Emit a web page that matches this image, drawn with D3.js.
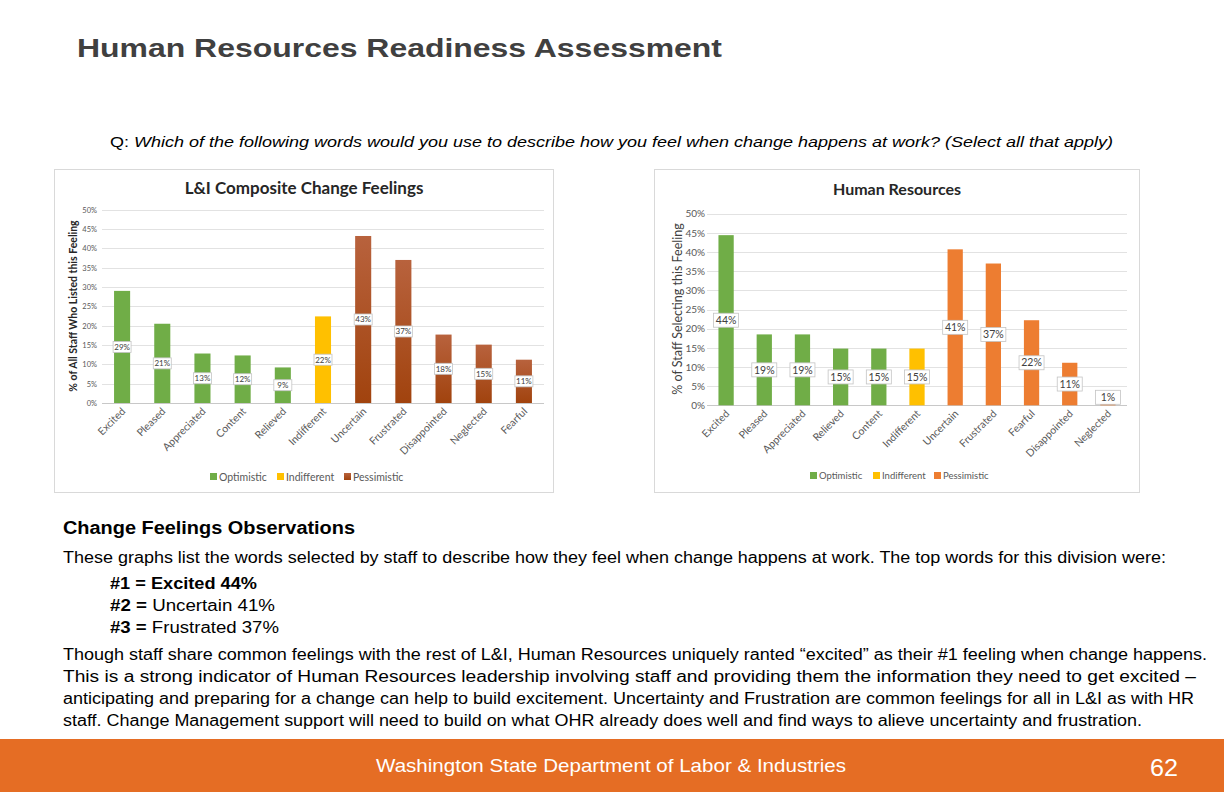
<!DOCTYPE html>
<html><head><meta charset="utf-8">
<script src="https://cdn.jsdelivr.net/npm/d3@7"></script>
<style>html,body{margin:0;padding:0;background:#fff;}svg{display:block;}</style>
</head><body>
<svg id="c" width="1224" height="792"></svg>
<script>
// ---------- DATA ----------
const groups = ["Optimistic", "Indifferent", "Pessimistic"];
const yTicks = [0, 5, 10, 15, 20, 25, 30, 35, 40, 45, 50];

const liCategories = ["Excited","Pleased","Appreciated","Content","Relieved","Indifferent","Uncertain","Frustrated","Disappointed","Neglected","Fearful"];
const liValues = [29.0, 20.5, 12.8, 12.3, 9.2, 22.4, 43.2, 37.0, 17.7, 15.1, 11.2];
const liGroups = ["Optimistic","Optimistic","Optimistic","Optimistic","Optimistic","Indifferent","Pessimistic","Pessimistic","Pessimistic","Pessimistic","Pessimistic"];

const hrCategories = ["Excited","Pleased","Appreciated","Relieved","Content","Indifferent","Uncertain","Frustrated","Fearful","Disappointed","Neglected"];
const hrValues = [44.4, 18.5, 18.5, 14.8, 14.8, 14.8, 40.7, 37.0, 22.2, 11.1, 0.6];
const hrGroups = ["Optimistic","Optimistic","Optimistic","Optimistic","Optimistic","Indifferent","Pessimistic","Pessimistic","Pessimistic","Pessimistic","Pessimistic"];

const topWords = [["#1 = ", "Excited 44%"], ["#2 =  ", "Uncertain 41%"], ["#3 =  ", "Frustrated 37%"]];
const paragraph = [
  "Though staff share common feelings with the rest of L&I, Human Resources uniquely ranted \u201cexcited\u201d as their #1 feeling when change happens.",
  "This is a strong indicator of Human Resources leadership involving staff and providing them the information they need to get excited \u2013",
  "anticipating and preparing for a change can help to build excitement. Uncertainty and Frustration are common feelings for all in L&I as with HR",
  "staff. Change Management support will need to build on what OHR already does well and find ways to alieve uncertainty and frustration."
];

// ---------- PAGE ----------
const svg = d3.select("#c");
const sans = "'Liberation Sans', Arial, sans-serif";
const chartFont = "Lato, 'Open Sans', sans-serif";

const defs = svg.append("defs");
const grad = defs.append("linearGradient").attr("id","brownGrad").attr("x1",0).attr("y1",0).attr("x2",0).attr("y2",1);
grad.append("stop").attr("offset","0%").attr("stop-color","#B8623D");
grad.append("stop").attr("offset","100%").attr("stop-color","#A1430E");

function fitText(sel, w){ sel.attr("textLength", w).attr("lengthAdjust","spacingAndGlyphs"); return sel; }

fitText(svg.append("text").attr("x",77).attr("y",57).attr("font-family",sans).attr("font-size",25)
  .attr("font-weight","bold").attr("fill","#404040").text("Human Resources Readiness Assessment"), 645);

const q = svg.append("text").attr("x",110).attr("y",147).attr("font-family",sans).attr("font-size",15).attr("fill","#000");
q.append("tspan").text("Q: ");
q.append("tspan").attr("font-style","italic").text("Which of the following words would you use to describe how you feel when change happens at work? (Select all that apply)");
fitText(q, 1003);

fitText(svg.append("text").attr("x",63).attr("y",534).attr("font-family",sans).attr("font-size",17.5)
  .attr("font-weight","bold").attr("fill","#000").text("Change Feelings Observations"), 292);
fitText(svg.append("text").attr("x",63).attr("y",563).attr("font-family",sans).attr("font-size",16)
  .attr("fill","#000").text("These graphs list the words selected by staff to describe how they feel when change happens at work. The top words for this division were:"), 1103);

const twW = [147, 165, 169];
topWords.forEach((t,i)=>{
  const tx = svg.append("text").attr("x",110).attr("y",589+i*22).attr("font-family",sans).attr("font-size",16).attr("fill","#000");
  tx.append("tspan").attr("font-weight","bold").text(t[0]);
  tx.append("tspan").attr("font-weight", i===0 ? "bold" : "normal").text(t[1]);
  fitText(tx, twW[i]);
});
const parW = [1144, 1133, 1131, 1079];
paragraph.forEach((p,i)=>{
  fitText(svg.append("text").attr("x",63).attr("y",660+i*22).attr("font-family",sans).attr("font-size",16)
    .attr("fill","#000").text(p), parW[i]);
});

// footer
svg.append("rect").attr("x",0).attr("y",739).attr("width",1224).attr("height",53).attr("fill","#E56D24");
fitText(svg.append("text").attr("x",376).attr("y",772).attr("font-family","'Liberation Sans Narrow', "+sans).attr("font-size",19)
  .attr("fill","#fff").text("Washington State Department of Labor & Industries"), 470);
fitText(svg.append("text").attr("x",1150).attr("y",776).attr("font-family","'Liberation Sans Narrow', "+sans).attr("font-size",24)
  .attr("fill","#fff").text("62"), 28);

// ---------- CHART ----------
function drawChart(cfg){
  const g = svg.append("g");
  g.append("rect").attr("x",cfg.box[0]+0.5).attr("y",cfg.box[1]+0.5).attr("width",cfg.box[2]).attr("height",cfg.box[3])
    .attr("fill","#fff").attr("stroke","#d9d9d9");
  const x = d3.scaleBand().domain(cfg.cats).range([cfg.px0, cfg.px1]).paddingInner(cfg.pad).paddingOuter(cfg.pad/2);
  const y = d3.scaleLinear().domain([0,50]).range([cfg.py0, cfg.py50]);

  // gridlines
  g.append("g").selectAll("line").data(yTicks).join("line")
    .attr("x1",cfg.px0).attr("x2",cfg.px1).attr("y1",d=>Math.round(y(d))+0.5).attr("y2",d=>Math.round(y(d))+0.5)
    .attr("stroke",d=>d===0?"#c8c8c8":"#e2e2e2").attr("stroke-width",1);

  // y axis labels
  const ya = g.append("g").attr("transform",`translate(${cfg.tickX},0)`)
    .call(d3.axisLeft(y).tickValues(yTicks).tickFormat(d=>d+"%").tickSize(0).tickPadding(0));
  ya.select(".domain").remove();
  ya.selectAll("text").attr("font-family",chartFont).attr("font-size",cfg.tickFont).attr("fill","#595959");

  // bars
  g.append("g").selectAll("rect").data(cfg.vals).join("rect")
    .attr("x",(d,i)=>x(cfg.cats[i])).attr("width",x.bandwidth())
    .attr("y",d=>y(d)).attr("height",d=>y(0)-y(d))
    .attr("fill",(d,i)=>cfg.colors[cfg.grps[i]]);

  // data labels
  const lab = g.append("g").selectAll("g").data(cfg.vals).join("g")
    .attr("transform",(d,i)=>{
      const cy = Math.min((y(d)+y(0))/2, y(0)-cfg.lblH/2-1);
      return `translate(${x(cfg.cats[i])+x.bandwidth()/2},${cy})`;
    });
  lab.append("rect").attr("x",-cfg.lblW/2).attr("y",-cfg.lblH/2).attr("width",cfg.lblW).attr("height",cfg.lblH)
    .attr("fill","#fff").attr("stroke","#c4c4c4").attr("stroke-width",0.8);
  lab.append("text").attr("text-anchor","middle").attr("dy","0.35em").attr("font-family",chartFont)
    .attr("font-size",cfg.lblFont).attr("fill","#404040").text(d=>Math.round(d)+"%");

  // x axis labels
  const xa = g.append("g").attr("transform",`translate(0,${cfg.py0})`)
    .call(d3.axisBottom(x).tickSize(0).tickPadding(0));
  xa.select(".domain").remove();
  xa.selectAll("text").attr("font-family",chartFont).attr("font-size",cfg.catFont).attr("fill","#595959")
    .attr("text-anchor","end").attr("dy",0).attr("y",0)
    .attr("transform",`translate(${cfg.catDx},${cfg.catDy}) rotate(-45)`);

  // title
  g.append("text").attr("x",cfg.titleX).attr("y",cfg.titleY).attr("text-anchor","middle")
    .attr("font-family",chartFont).attr("font-weight","bold").attr("font-size",cfg.titleFont).attr("fill","#262626").text(cfg.title);

  // y title
  g.append("text").attr("transform",`translate(${cfg.yTitleX},${cfg.yTitleY}) rotate(-90)`).attr("text-anchor","middle")
    .attr("font-family",chartFont).attr("font-weight",cfg.yTitleWeight).attr("font-size",cfg.yTitleFont).attr("fill",cfg.yTitleColor)
    .text(cfg.yTitle);

  // legend
  const lg = g.append("g").selectAll("g").data(groups).join("g")
    .attr("transform",(d,i)=>`translate(${cfg.legX[i]},${cfg.legY})`);
  lg.append("rect").attr("x",0).attr("y",-4).attr("width",7).attr("height",7).attr("fill",d=>cfg.colors[d]);
  lg.append("text").attr("x",9).attr("y",0).attr("dy","0.35em").attr("font-family",chartFont).attr("font-size",cfg.legFont)
    .attr("fill","#595959").text(d=>d);
}

drawChart({
  box:[54,169,499,323], px0:102, px1:544, py0:403, py50:209.7, pad:0.6,
  cats:liCategories, vals:liValues, grps:liGroups,
  colors:{Optimistic:"#70AD47", Indifferent:"#FFC000", Pessimistic:"url(#brownGrad)"},
  tickX:97, tickFont:7.5, lblW:18, lblH:11, lblFont:8, catFont:10.5, catDx:4, catDy:9,
  title:"L&I Composite Change Feelings", titleX:304, titleY:194, titleFont:17,
  yTitle:"% of All Staff Who Listed this Feeling", yTitleX:77, yTitleY:306, yTitleFont:10.5, yTitleWeight:"bold", yTitleColor:"#262626",
  legX:[210,277,344], legY:477, legFont:10.5
});

drawChart({
  box:[654,169,485,323], px0:707, px1:1127, py0:405.3, py50:213.7, pad:0.6,
  cats:hrCategories, vals:hrValues, grps:hrGroups,
  colors:{Optimistic:"#70AD47", Indifferent:"#FFC000", Pessimistic:"#ED7D31"},
  tickX:705, tickFont:10, lblW:25, lblH:14, lblFont:10.5, catFont:10.5, catDx:4, catDy:9,
  title:"Human Resources", titleX:897, titleY:195, titleFont:16,
  yTitle:"% of Staff Selecting this Feeling", yTitleX:682, yTitleY:309, yTitleFont:12.5, yTitleWeight:"normal", yTitleColor:"#404040",
  legX:[810,873,934], legY:476, legFont:9.5
});
</script>
</body></html>
